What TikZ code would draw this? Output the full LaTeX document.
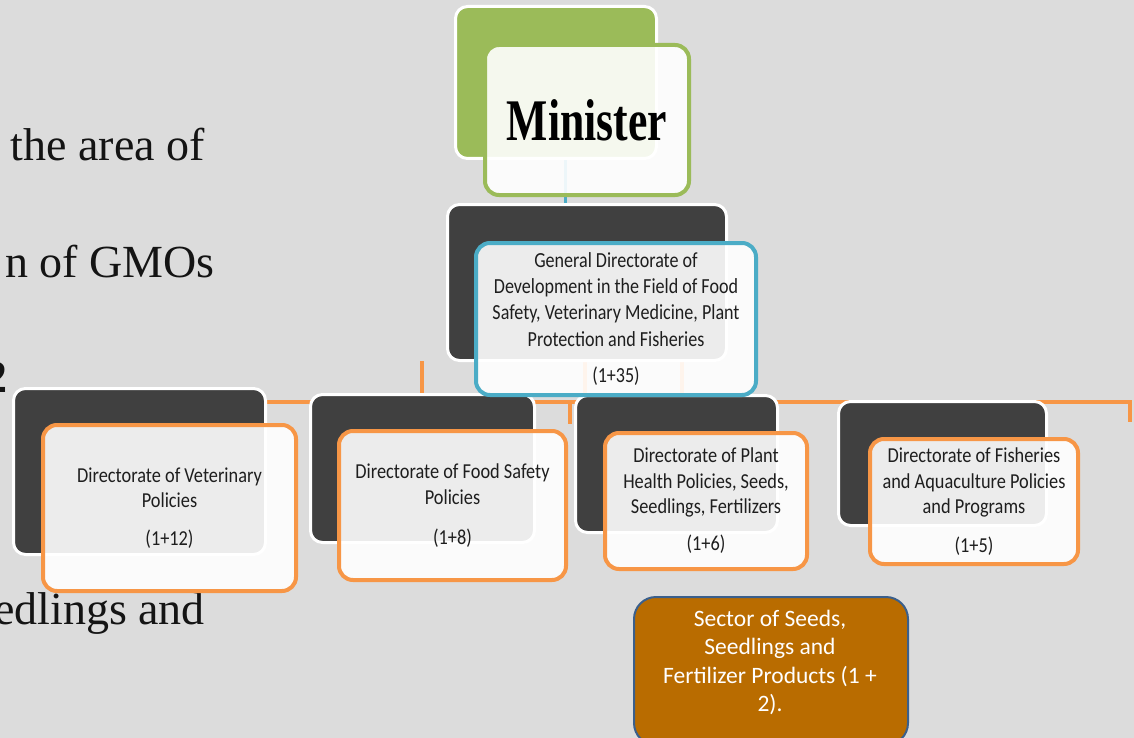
\documentclass[tikz,border=0pt]{standalone}
\usepackage{fontspec}
\setmainfont{Liberation Serif}
\newfontfamily\dirfont{Carlito}[FakeStretch=0.86]
\newfontfamily\genfont{Carlito}[FakeStretch=0.84]
\newfontfamily\secfont{Carlito}
\newfontfamily\minfont{Liberation Serif}[FakeStretch=0.74]
\definecolor{bgc}{RGB}{220,220,220}
\definecolor{darkbox}{RGB}{64,64,64}
\definecolor{mingreen}{RGB}{155,187,89}
\definecolor{genblue}{RGB}{75,172,198}
\definecolor{orangec}{RGB}{247,150,70}
\definecolor{sectorfill}{RGB}{185,108,0}
\definecolor{sectorline}{RGB}{58,95,140}
\definecolor{txt}{RGB}{30,30,30}
\begin{document}
\begin{tikzpicture}[x=1pt,y=-1pt,
  backbox/.style={rectangle, rounded corners=12pt, draw=white, line width=3pt, fill=darkbox, inner sep=0pt},
  frontbox/.style={rectangle, rounded corners=14pt, line width=4pt, fill=white, fill opacity=0.9, draw opacity=1, text opacity=1, align=center, inner sep=0pt, text=txt},
  dirbox/.style={frontbox, draw=orangec, font=\dirfont\fontsize{21.3}{25.5}\selectfont},
  bodytext/.style={inner sep=0pt, anchor=base east, text=black!92, font=\fontsize{46}{52}\selectfont},
  orangeline/.style={draw=orangec, line width=3.5pt},
  blueline/.style={draw=genblue, line width=3pt}
]
\useasboundingbox (0,0) rectangle (1134,738);
\clip (0,0) rectangle (1134,738);
\fill[bgc] (0,0) rectangle (1134,738);

% left body text fragments
\node[bodytext] (t1) at (205,161) {the area of};
\node[bodytext] (t2) at (215,277) {n of GMOs};
\node[bodytext, font=\bfseries\fontsize{46}{52}\selectfont] (t3) at (8,392) {2};
\node[bodytext] (t4) at (205,624) {edlings and};

% connectors (drawn beneath the boxes)
\coordinate (minc) at (565,158);
\coordinate (genc) at (565,205);
\draw[blueline] (minc) -- (genc);
\coordinate (busL) at (265,402);
\coordinate (busR) at (1130,402);
\coordinate (busE) at (1130,422);
\draw[orangeline] (busL) -- (busR) -- (busE);
\coordinate (dropA) at (422,361);
\coordinate (dropAe) at (422,394);
\draw[orangeline] (dropA) -- (dropAe);
\coordinate (dropB) at (570,400);
\coordinate (dropBe) at (570,424);
\draw[orangeline] (dropB) -- (dropBe);
\coordinate (dropC) at (585,360);
\coordinate (dropCe) at (585,402);
\draw[orangeline] (dropC) -- (dropCe);
\coordinate (dropD) at (682,360);
\coordinate (dropDe) at (682,402);
\draw[orangeline] (dropD) -- (dropDe);

% back boxes
\node[backbox, fill=mingreen, minimum width=201pt, minimum height=152pt] (minB) at (556,82.5) {};
\node[backbox, minimum width=279pt, minimum height=156pt] (genB) at (587,282.5) {};
\node[backbox, minimum width=252pt, minimum height=166pt] (vetB) at (139.5,471.5) {};
\node[backbox, minimum width=224pt, minimum height=148pt] (foodB) at (422.5,468.5) {};
\node[backbox, minimum width=202pt, minimum height=137pt] (plantB) at (676.5,464) {};
\node[backbox, minimum width=208pt, minimum height=124pt] (fishB) at (942.5,463.5) {};

% front boxes
\node[frontbox, draw=mingreen, minimum width=204pt, minimum height=150pt, text=black,
      font=\minfont\bfseries\fontsize{59}{59}\selectfont] (minF) at (587,120) {Minister};
\node[frontbox, draw=genblue, minimum width=280pt, minimum height=152pt,
      font=\genfont\fontsize{21.5}{26.3}\selectfont] (genF) at (616,319)
  {General Directorate of\\Development in the Field of Food\\Safety, Veterinary Medicine, Plant\\Protection and Fisheries\\[10.5pt](1+35)};
\node[dirbox, minimum width=253pt, minimum height=166pt] (vetF) at (169.5,508)
  {Directorate of Veterinary\\Policies\\[12.5pt](1+12)};
\node[dirbox, minimum width=227pt, minimum height=149pt] (foodF) at (452.5,505.5)
  {Directorate of Food Safety\\Policies\\[14.5pt](1+8)};
\node[dirbox, minimum width=202pt, minimum height=136pt] (plantF) at (706,501)
  {Directorate of Plant\\Health Policies, Seeds,\\Seedlings, Fertilizers\\[11.5pt](1+6)};
\node[dirbox, minimum width=208pt, minimum height=125pt] (fishF) at (974,501.5)
  {Directorate of Fisheries\\and Aquaculture Policies\\and Programs\\[13pt](1+5)};

% sector box
\node[rectangle, rounded corners=22pt, draw=sectorline, line width=2pt, fill=sectorfill,
      minimum width=274pt, minimum height=148pt, inner sep=0pt] (sector) at (771,671) {};
\node[align=center, text=white, inner sep=0pt, font=\secfont\fontsize{23.5}{28.5}\selectfont]
  (sectorlabel) at (770,662.5) {Sector of Seeds,\\Seedlings and\\Fertilizer Products (1 +\\2).};
\end{tikzpicture}
\end{document}
